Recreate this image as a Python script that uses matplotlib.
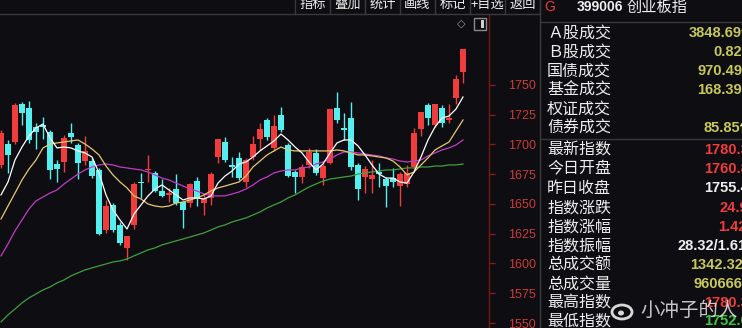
import matplotlib
matplotlib.use("Agg")
import matplotlib.pyplot as plt
from matplotlib.patches import Rectangle, Ellipse
import numpy as np

plt.rcParams["font.family"] = ["Noto Sans CJK SC", "DejaVu Sans"]

# daily candles of 399006, oldest first
opens = [1682.8, 1700.4, 1702.1, 1734.0, 1730.7, 1714.7, 1716.4, 1710.5, 1683.6, 1685.3,
         1709.7, 1699.6, 1686.1, 1686.1, 1678.6, 1628.2, 1649.2, 1632.4, 1613.0, 1632.4,
         1668.5, 1678.6, 1676.1, 1660.9, 1657.6, 1662.6, 1651.7, 1650.8, 1669.3, 1650.8,
         1655.0, 1689.5, 1702.1, 1682.8, 1688.7, 1668.5, 1689.5, 1704.6, 1720.6, 1697.1,
         1724.8, 1699.6, 1676.9, 1672.7, 1682.8, 1692.9, 1671.8, 1684.5, 1730.7, 1713.9,
         1722.3, 1682.8, 1672.7, 1671.0, 1676.9, 1671.0, 1671.8, 1665.1, 1666.8, 1681.1,
         1713.0, 1733.2, 1716.4, 1730.7, 1720.6, 1739.1, 1760.8]
highs = [1712.2, 1703.8, 1734.9, 1735.7, 1736.6, 1718.1, 1723.1, 1712.2, 1687.0, 1708.0,
         1718.1, 1701.3, 1707.1, 1688.7, 1680.3, 1653.4, 1650.8, 1634.9, 1623.1, 1668.5,
         1676.1, 1691.2, 1677.7, 1671.0, 1663.4, 1675.2, 1651.7, 1667.6, 1672.7, 1659.2,
         1676.9, 1704.6, 1706.3, 1689.5, 1693.7, 1688.7, 1707.1, 1718.1, 1722.3, 1724.8,
         1731.5, 1701.3, 1678.6, 1683.6, 1697.1, 1696.2, 1683.6, 1729.8, 1744.1, 1726.5,
         1735.7, 1684.5, 1681.9, 1687.0, 1684.5, 1672.7, 1680.3, 1676.9, 1682.8, 1713.9,
         1727.3, 1734.9, 1734.0, 1733.2, 1734.0, 1758.4, 1780.3]
lows = [1680.3, 1676.1, 1700.0, 1716.4, 1701.3, 1696.2, 1704.6, 1671.0, 1668.5, 1676.9,
        1701.3, 1671.0, 1682.8, 1671.8, 1624.0, 1625.6, 1626.5, 1615.5, 1602.9, 1629.0,
        1655.0, 1668.5, 1660.1, 1655.9, 1651.7, 1649.2, 1629.8, 1647.5, 1648.3, 1640.8,
        1649.2, 1684.5, 1685.3, 1672.7, 1670.2, 1664.3, 1687.0, 1695.4, 1703.8, 1694.5,
        1710.5, 1672.7, 1659.2, 1667.6, 1680.3, 1674.4, 1666.0, 1683.6, 1718.1, 1703.8,
        1678.6, 1653.4, 1659.2, 1659.2, 1664.3, 1647.5, 1664.3, 1648.3, 1664.3, 1678.6,
        1707.1, 1716.4, 1714.7, 1714.7, 1718.1, 1734.0, 1752.0]
closes = [1709.7, 1691.2, 1733.2, 1726.5, 1703.8, 1710.5, 1714.7, 1678.6, 1679.4, 1705.5,
          1706.3, 1684.5, 1694.5, 1673.5, 1624.8, 1648.3, 1628.2, 1617.2, 1623.1, 1666.8,
          1667.6, 1679.4, 1660.9, 1656.7, 1659.2, 1650.8, 1645.0, 1666.8, 1655.0, 1655.0,
          1675.2, 1704.6, 1687.0, 1681.1, 1671.8, 1687.0, 1700.4, 1713.0, 1706.3, 1715.5,
          1712.2, 1673.5, 1672.7, 1681.1, 1693.7, 1676.1, 1681.9, 1729.8, 1720.6, 1712.2,
          1681.1, 1662.6, 1679.4, 1674.4, 1675.2, 1665.1, 1668.5, 1675.2, 1676.1, 1709.7,
          1727.3, 1722.3, 1734.0, 1718.1, 1722.3, 1755.4, 1780.3]

# moving averages as drawn by the terminal
ma5 = [1657.6, 1668.5, 1687.0, 1697.9, 1707.2, 1713.9, 1717.2, 1705.5, 1697.1, 1697.9,
       1697.1, 1694.6, 1692.9, 1689.5, 1676.1, 1657.6, 1645.0, 1636.6, 1629.0, 1641.6,
       1649.2, 1656.8, 1662.6, 1666.0, 1661.8, 1657.6, 1653.4, 1655.1, 1655.1, 1654.2,
       1656.8, 1667.6, 1673.5, 1677.7, 1683.6, 1685.3, 1689.5, 1694.6, 1698.8, 1703.0,
       1708.8, 1703.8, 1697.9, 1692.9, 1685.3, 1678.6, 1683.6, 1692.9, 1701.3, 1703.8,
       1703.8, 1698.8, 1691.2, 1682.8, 1675.2, 1671.8, 1671.8, 1668.5, 1667.6, 1676.9,
       1689.5, 1703.8, 1714.7, 1722.3, 1723.9, 1729.8, 1739.9]
ma10 = [1637.4, 1648.3, 1659.2, 1670.2, 1679.4, 1687.0, 1697.1, 1700.4, 1701.3, 1702.1,
        1703.0, 1703.8, 1700.4, 1696.2, 1691.2, 1681.9, 1674.4, 1668.5, 1663.5, 1656.8,
        1654.2, 1650.0, 1648.3, 1647.5, 1648.3, 1650.8, 1651.7, 1653.4, 1655.1, 1657.6,
        1661.0, 1663.5, 1665.1, 1666.8, 1668.5, 1673.5, 1681.1, 1686.1, 1691.2, 1694.6,
        1697.9, 1695.4, 1694.6, 1694.6, 1694.6, 1694.6, 1694.6, 1694.6, 1695.4, 1694.6,
        1692.9, 1691.2, 1691.2, 1690.4, 1689.5, 1688.7, 1686.1, 1681.1, 1674.4, 1676.9,
        1682.8, 1688.7, 1695.4, 1698.8, 1702.1, 1711.4, 1720.6]
ma20 = [1606.4, 1616.4, 1627.4, 1636.6, 1645.8, 1652.6, 1655.9, 1659.2, 1661.8, 1666.8,
        1671.0, 1675.2, 1678.6, 1681.1, 1682.8, 1683.6, 1682.8, 1681.1, 1680.3, 1679.4,
        1678.6, 1676.9, 1674.4, 1671.8, 1670.2, 1667.6, 1665.1, 1662.6, 1660.9, 1658.4,
        1656.8, 1656.8, 1656.8, 1658.4, 1660.1, 1662.6, 1666.0, 1670.2, 1672.7, 1676.1,
        1677.7, 1678.6, 1678.6, 1680.3, 1681.1, 1683.6, 1685.3, 1687.8, 1691.2, 1693.7,
        1693.7, 1692.9, 1692.0, 1691.2, 1690.4, 1688.7, 1687.8, 1686.1, 1685.3, 1686.1,
        1687.0, 1690.4, 1692.9, 1695.4, 1697.1, 1699.6, 1703.8]
ma60 = [1550.9, 1556.8, 1561.8, 1566.9, 1571.1, 1574.4, 1577.8, 1580.3, 1583.7, 1586.2,
        1589.6, 1592.1, 1594.6, 1596.3, 1598.0, 1599.6, 1601.3, 1602.2, 1603.8, 1606.4,
        1608.9, 1611.4, 1613.1, 1615.6, 1617.3, 1619.0, 1620.6, 1622.3, 1624.0, 1625.7,
        1628.2, 1630.7, 1632.4, 1634.9, 1636.6, 1638.3, 1640.8, 1643.3, 1646.6, 1649.2,
        1651.7, 1655.1, 1657.6, 1661.0, 1664.3, 1666.8, 1669.3, 1671.0, 1671.8, 1672.7,
        1673.5, 1675.2, 1676.1, 1676.9, 1677.7, 1678.6, 1678.6, 1679.4, 1680.3, 1680.3,
        1681.1, 1681.1, 1681.9, 1681.9, 1682.8, 1682.8, 1683.6]

price_ticks = [1550, 1575, 1600, 1625, 1650, 1675, 1700, 1725, 1750]
toolbar_labels = ["指标", "叠加", "统计", "画线", "标记", "+目选", "返回"]
quote_labels = ["Ａ股成交", "Ｂ股成交", "国债成交", "基金成交", "权证成交", "债券成交",
                "最新指数", "今日开盘", "昨日收盘", "指数涨跌", "指数涨幅", "指数振幅",
                "总成交额", "总成交量", "最高指数", "最低指数"]
quote_values = ["3848.69亿", "0.82亿", "970.49亿", "168.39亿", "", "85.85亿",
                "1780.3", "1760.8", "1755.4", "24.9", "1.42", "28.32/1.61",
                "1342.32", "9606661", "1780.3", "1752.0"]

BG = "#0e0d11"
RED = "#f03c3c"
CYAN = "#54f0f0"
OLIVE = "#c8c85a"
WHITE = "#eeeeee"
GREEN = "#3cc83c"
value_colors = [OLIVE, OLIVE, OLIVE, OLIVE, OLIVE, OLIVE,
                RED, RED, WHITE, RED, RED, WHITE,
                OLIVE, OLIVE, RED, GREEN]

W, H = 742, 328
fig = plt.figure(figsize=(W / 100, H / 100), dpi=100, facecolor=BG)

# background layer in pixel coords for the toolbar and the quote panel
bg = fig.add_axes([0, 0, 1, 1], zorder=0)
bg.set_xlim(0, W)
bg.set_ylim(H, 0)
bg.axis("off")
bg.set_facecolor(BG)

bg.plot([0, 540], [14, 14], color="#3a3a3a", lw=1)
bg.plot([540, 540], [0, H], color="#3a3a3a", lw=1)
bg.plot([540, W], [22, 22], color="#3a3a3a", lw=1)
bg.plot([540, W], [139, 139], color="#3a3a3a", lw=1)

sep_x = [295, 330, 365, 400, 435, 470, 505, 540]
for sx in sep_x:
    bg.plot([sx, sx], [0, 14], color="#3a3a3a", lw=1)
for k, lab in enumerate(toolbar_labels):
    cx = (sep_x[k] + sep_x[k + 1]) / 2
    bg.text(cx, 4.5, lab, color=WHITE, fontsize=9.5, ha="center", va="center")

# small toolbar icons on the chart
bg.text(461, 24, "◇", color="#9a9a9a", fontsize=8, ha="center", va="center",
        family="DejaVu Sans")
bg.add_patch(Rectangle((474, 18), 12, 12, fill=False, edgecolor="#8a8a8a", lw=1))
bg.add_patch(Rectangle((481, 20), 3, 8, color="#cfcfcf", lw=0))

# quote panel
bg.text(550, 7, "G", color=RED, fontsize=10, ha="center", va="center",
        family="Liberation Sans")
bg.text(577, 7, "399006", color=WHITE, fontsize=10, ha="left", va="center",
        family="Liberation Sans", fontweight="bold")
bg.text(627, 7, "创业板指", color=WHITE, fontsize=11, ha="left", va="center")

row_y = [33, 52, 71, 90, 109, 128, 150, 169, 188, 208, 227, 246, 265, 284, 303, 321]
value_x = [689, 713, 697, 697, 697, 704, 704, 704, 704, 720, 718, 677, 690, 693, 704, 704]
for lab, val, col, ry, vx in zip(quote_labels, quote_values, value_colors, row_y, value_x):
    bg.text(547, ry, lab, color=WHITE, fontsize=11.5, ha="left", va="center")
    if val:
        bg.text(vx, ry, val, color=col, fontsize=10.5, ha="left", va="center",
                family=["Liberation Sans", "Noto Sans CJK SC"], fontweight="bold")

# watermark
bg.add_patch(Ellipse((622, 312), 20, 14, fill=False, edgecolor="#d8d8d8", lw=2))
bg.add_patch(Ellipse((621, 313), 6, 5, color="#d8d8d8", lw=0))
bg.text(640, 310, "小冲子的人", color="#e8e8e8", alpha=0.85, fontsize=14,
        ha="left", va="center")

# candlestick chart
ax = fig.add_axes([0, 0, 489 / W, 313 / H], zorder=1)
ax.set_facecolor("none")
n = len(closes)
x = np.arange(n)
o = np.array(opens)
c = np.array(closes)
up = c >= o
colors = np.where(up, RED, CYAN)
body_lo = np.minimum(o, c)
body_h = np.maximum(np.abs(c - o), 0.7)

ax.vlines(x, lows, highs, colors=colors, lw=1, zorder=2)
ax.bar(x, body_h, bottom=body_lo, width=0.72, color=colors, lw=0, zorder=3)

ax.plot(x, ma60, color="#3fa03f", lw=0.9, zorder=4)
ax.plot(x, ma20, color="#c03cc8", lw=0.9, zorder=4)
ax.plot(x, ma10, color="#e6c86e", lw=0.9, zorder=4)
ax.plot(x, ma5, color="#ffffff", lw=0.9, zorder=5)

ax.set_xlim(-1 / 7, 488 / 7)
ax.set_ylim(1545.8, 1808.8)
ax.set_xticks([])
ax.yaxis.tick_right()
ax.set_yticks(price_ticks)
ax.set_yticklabels([str(t) for t in price_ticks], family="Liberation Sans")
ax.tick_params(axis="y", colors="#8a1c1c", labelcolor="#c83c3c", length=4,
               width=1, direction="out", pad=9.5, labelsize=9)
for side in ["left", "top", "bottom"]:
    ax.spines[side].set_visible(False)
ax.spines["right"].set_color("#7a1515")
ax.spines["right"].set_linewidth(1)

fig.savefig("out.png", dpi=100, facecolor=BG)
